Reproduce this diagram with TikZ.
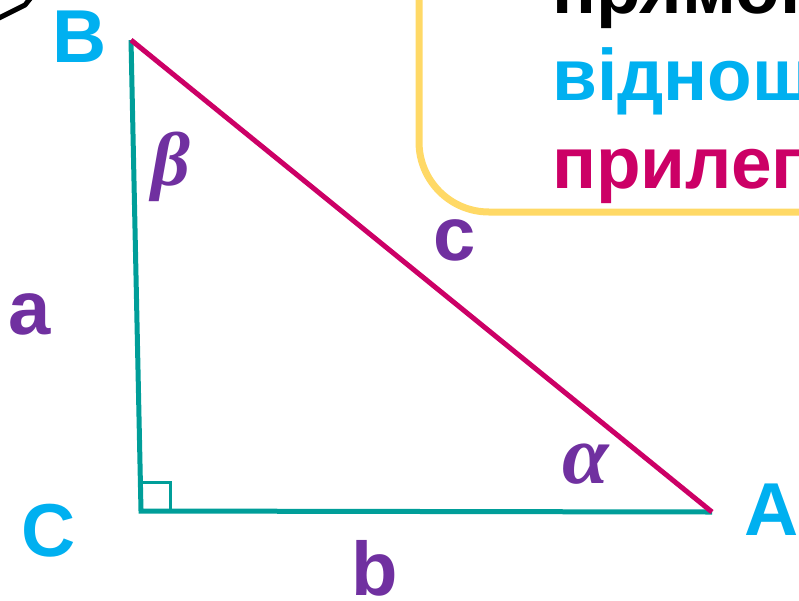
\documentclass[tikz,border=0pt]{standalone}
\usepackage{fontspec}
\setmainfont{Liberation Sans}
\newfontfamily\grkfont{Liberation Serif}
\definecolor{vertblue}{HTML}{00B0F0}
\definecolor{legteal}{HTML}{009E99}
\definecolor{hypmag}{HTML}{CC0066}
\definecolor{sidepurple}{HTML}{7030A0}
\definecolor{boxyellow}{HTML}{FFD966}
\begin{document}
\begin{tikzpicture}[x=1pt,y=-1pt,
        vertlabel/.style={text=vertblue,inner sep=0pt,font=\fontsize{75}{80}\selectfont\bfseries},
        sidelabel/.style={text=sidepurple,inner sep=0pt,anchor=base,font=\fontsize{76}{80}\selectfont\bfseries},
        anglabel/.style={text=sidepurple,inner sep=0pt,font=\grkfont\bfseries\itshape},
        boxline/.style={anchor=base west,inner sep=0pt,font=\fontsize{73}{80}\selectfont\bfseries},
        leg/.style={draw=legteal,line width=5pt},
        hyp/.style={draw=hypmag,line width=5pt}]
    \useasboundingbox (0,0) rectangle (799,600);
    \clip (0,0) rectangle (799,600);
    % bits of the slide cut off at the edges
    \draw [line width=5pt,line join=round] (-5,20) -- (25,5) -- (33,-5);
    \draw [boxyellow,line width=7pt,rounded corners=70pt] (419,-150) rectangle (950,212);
    \node (txtone) [boxline,text=black] at (552,13) {прямокутного};
    \node (txttwo) [boxline,text=vertblue] at (552,100) {відношення};
    \node (txtthree) [boxline,text=hypmag] at (552,188) {прилеглого};
    % triangle
    \coordinate (B) at (131,40);
    \coordinate (C) at (141,511);
    \coordinate (A) at (712,512);
    \draw [leg] (B) -- (C) -- (A);
    \draw [hyp] (B) -- (A);
    \draw [legteal,line width=3pt] (C) ++(0,-29) -| ++(29,29);
    \node (labB) [vertlabel] at (80,37) {B};
    \node (labC) [vertlabel] at (49,531) {C};
    \node (labA) [vertlabel] at (772,510) {A};
    \node (sidea) [sidelabel] at (30,334) {a};
    \node (sideb) [sidelabel] at (375,595) {b};
    \node (sidec) [sidelabel] at (455,260) {c};
    \node (angb) [anglabel,font=\grkfont\bfseries\itshape\fontsize{76}{80}\selectfont] at (171,167) {β};
    \node (anga) [anglabel,font=\grkfont\bfseries\itshape\fontsize{84}{90}\selectfont] at (586,464) {α};
\end{tikzpicture}
\end{document}
